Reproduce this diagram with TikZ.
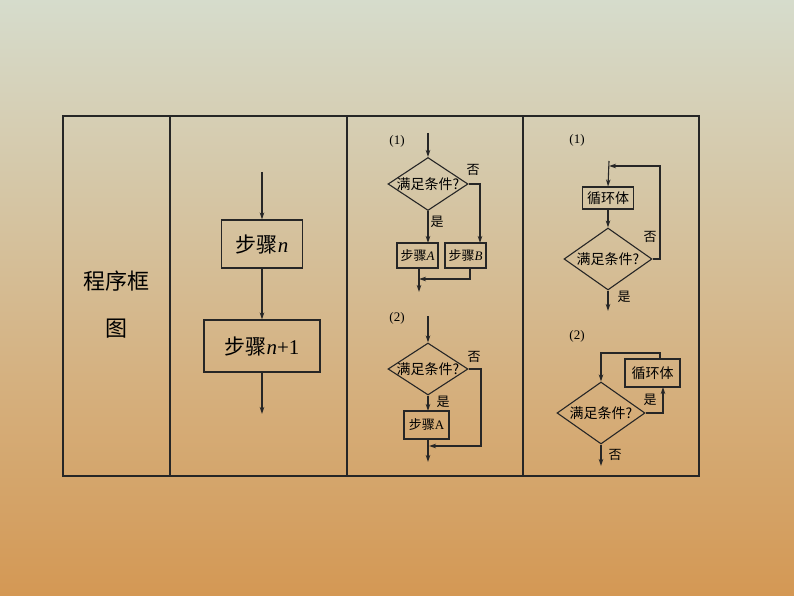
\documentclass[tikz,border=0pt]{standalone}
\usepackage{fontspec}
\setmainfont{Liberation Serif}
\newfontfamily\cjk{Noto Sans CJK SC}
\newcommand{\lt}[1]{{\rmfamily\itshape #1}}
\newcommand{\lu}[1]{{\rmfamily #1}}
\usetikzlibrary{shapes.geometric,arrows.meta}
\begin{document}
\begin{tikzpicture}[x=1pt,y=-1pt,
 ln/.style={line width=1.1pt,draw=black!85},
 ar/.style={ln,-{Stealth[length=7pt,width=4.5pt]}},
 bx/.style={ln,rectangle,inner sep=0pt},
 dm/.style={ln,diamond,inner sep=0pt,aspect=1.5},
 tx/.style={inner sep=0pt,font=\cjk\fontsize{13}{13}\selectfont},
 dt/.style={inner sep=0pt,font=\cjk\fontsize{14}{14}\selectfont}]
\shade[top color={rgb,255:red,214;green,220;blue,204},middle color={rgb,255:red,214;green,210;blue,182},bottom color={rgb,255:red,212;green,152;blue,84}] (0,0) rectangle (794,596);
\useasboundingbox (0,0) rectangle (794,596);
\draw[ln] (63,116) rectangle (699,476);
\foreach \x in {170,347,523} \draw[ln] (\x,116) -- (\x,476);
% col1
\node[tx,font=\cjk\fontsize{22}{22}\selectfont] (t1) at (116,281) {程序框};
\node[tx,font=\cjk\fontsize{22}{22}\selectfont] (t2) at (116,329) {图};
% col2
\coordinate (c2a) at (262,172);
\node[bx,minimum width=81pt,minimum height=48pt,font=\cjk\fontsize{21}{21}\selectfont] (sn) at (262,244) {步骤\lt{n}};
\node[bx,minimum width=116pt,minimum height=52pt,font=\cjk\fontsize{21}{21}\selectfont] (sn1) at (262,346) {步骤\lt{n}\lu{+1}};
\coordinate (c2b) at (262,414);
\draw[ar] (c2a) -- (sn);
\draw[ar] (sn) -- (sn1);
\draw[ar] (sn1) -- (c2b);
% col3 (1)
\node[tx,font=\fontsize{13}{13}\selectfont] (l31) at (397,141) {(1)};
\coordinate (d1in) at (428,133);
\node[dm,minimum width=80pt,minimum height=53pt] (d1) at (428,184) {};
\node[dt] (d1t) at (428,184) {满足条件?};
\node[bx,minimum width=41pt,minimum height=25pt] (A1) at (417.5,255.5) {};
\node[tx] at (A1) {步骤\lt{A}};
\node[bx,minimum width=41pt,minimum height=25pt] (B1) at (465.5,255.5) {};
\node[tx] at (B1) {步骤\lt{B}};
\node[tx] (n1) at (473,170) {否};
\node[tx] (y1) at (437,222) {是};
\draw[ar] (d1in) -- (d1.north);
\draw[ar] (d1.south) -- (428,243);
\draw[ar] (d1.east) -- (480,184) -- (480,243);
\coordinate (o1) at (419,292);
\draw[ar] (419,268) -- (o1);
\draw[ar] (470,268) -- (470,279) -- (419,279);
% col3 (2)
\node[tx,font=\fontsize{13}{13}\selectfont] (l32) at (397,318) {(2)};
\coordinate (d2in) at (428,316);
\node[dm,minimum width=80pt,minimum height=52pt] (d2) at (428,369) {};
\node[dt] at (d2) {满足条件?};
\node[bx,minimum width=45pt,minimum height=28pt] (A2) at (426.5,425) {};
\node[tx] at (A2) {步骤\lu{A}};
\node[tx] (n2) at (474,357) {否};
\node[tx] (y2) at (443,402) {是};
\draw[ar] (d2in) -- (d2.north);
\draw[ar] (d2.south) -- (428,411);
\draw[ar] (d2.east) -- (481,369) -- (481,446) -- (429,446);
\coordinate (o2) at (428,462);
\draw[ar] (428,439) -- (o2);
% col4 (1)
\node[tx,font=\fontsize{13}{13}\selectfont] (l41) at (577,140) {(1)};
\node[bx,minimum width=51pt,minimum height=22pt] (L1) at (608,198) {};
\node[tx,font=\cjk\fontsize{14}{14}\selectfont] at (L1) {循环体};
\node[dm,minimum width=88pt,minimum height=62pt] (d3) at (608,259) {};
\node[dt] at (d3) {满足条件?};
\node[tx] (n3) at (650,237) {否};
\node[tx] (y3) at (624,297) {是};
\draw[ar] (609,161) -- (L1.north);
\draw[ar] (L1.south) -- (d3.north);
\draw[ar] (d3.east) -- (660,259) -- (660,166) -- (609,166);
\draw[ar] (d3.south) -- (608,311);
% col4 (2)
\node[tx,font=\fontsize{13}{13}\selectfont] (l42) at (577,336) {(2)};
\node[dm,minimum width=88pt,minimum height=62pt] (d4) at (601,413) {};
\node[dt] at (d4) {满足条件?};
\node[bx,minimum width=55pt,minimum height=28pt] (L2) at (652.5,373) {};
\node[tx,font=\cjk\fontsize{14}{14}\selectfont] at (L2) {循环体};
\node[tx] (n4) at (615,455) {否};
\node[tx] (y4) at (650,400) {是};
\draw[ar] (d4.east) -- (663,413) -- (663,387);
\draw[ar] (660,359) -- (660,353) -- (601,353) -- (d4.north);
\draw[ar] (d4.south) -- (601,466);
\end{tikzpicture}
\end{document}
